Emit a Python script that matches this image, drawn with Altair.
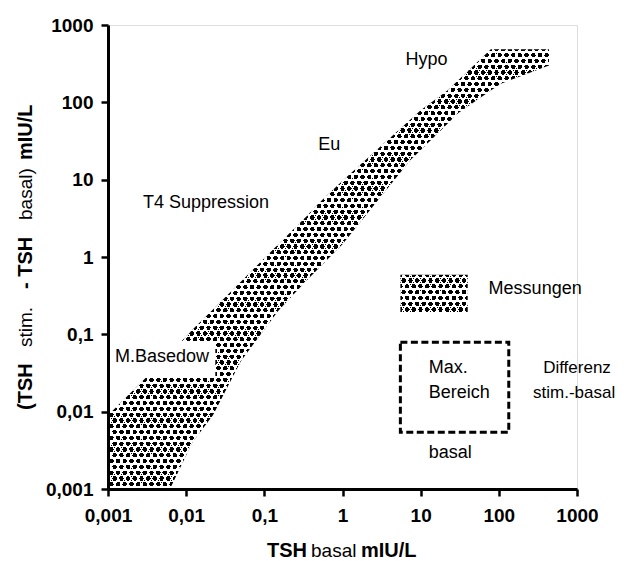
import math

import altair as alt
import numpy as np
import pandas as pd

FONT = "Liberation Sans"

# ---------------- data ----------------
# band of measurements: TSH basal (x) vs. lower / upper limit of TSH stim. - TSH basal
band_x     = [0.001, 0.0062, 0.012, 0.022, 0.05, 0.15, 0.35, 0.5, 1, 2.1, 7.4, 10, 22, 30, 79, 106, 438]
band_upper = [0.009, 0.056, 0.115, 0.21, 0.48, 1.45, 3.4, 5.0, 9.7, 19, 60, 79, 142, 191, 485, 485, 485]
band_lower = [0.001, 0.001, 0.004, 0.009, 0.045, 0.2, 0.5, 0.72, 1.46, 3.7, 18, 24, 53, 72, 142, 174, 300]

# axis ticks
tick_values = [0.001, 0.01, 0.1, 1, 10, 100, 1000]
tick_labels = ["0,001", "0,01", "0,1", "1", "10", "100", "1000"]

# annotation texts (left aligned)
ann_text = ["T4 Suppression", "Eu", "Hypo", "M.Basedow", "Messungen", "Max.", "Bereich", "basal"]
ann_x    = [0.0028, 0.49, 6.4, 0.00123, 74, 12.7, 12.7, 12.7]
ann_y    = [5.0, 28, 350, 0.051, 0.386, 0.037, 0.0176, 0.00296]

# centred annotation texts
ann2_text = ["Differenz", "stim.-basal"]
ann2_x    = [1000, 920]
ann2_y    = [0.037, 0.0176]

# white label box behind "M.Basedow"
box_x  = [0.001]
box_x2 = [0.0236]
box_y  = [0.0275]
box_y2 = [0.08]

# legend swatch "Messungen"
sw_x, sw_x2, sw_y, sw_y2 = [5.5], [40], [0.19], [0.59]
# dashed legend box
db_x, db_x2, db_y, db_y2 = [5.5], [134], [0.0054], [0.079]

# ---------------- layout ----------------
W, H = 469, 464
PAD = {"left": 100, "top": 17, "right": 39, "bottom": 71}


def px_x(v):
    return (np.log10(v) + 3) * W / 6


def px_y(v):
    return (3 - np.log10(v)) * H / 6


def stripes(bw, bh, d, pitch, duty, on, off):
    """Hard-stop linear gradient: stripes parallel to pixel direction d, centred on
    lines through the box corner lattice, inside a bw x bh bounding box."""
    dx, dy = d
    g = np.array([dy / bh, -dx / bw])
    g = g / np.linalg.norm(g)
    corners = np.array([[0, 0], [1, 0], [0, 1], [1, 1]], dtype=float)
    t = corners @ g
    t0, t1 = t.min(), t.max()
    p0, p1 = g * t0, g * t1
    n = np.array([dy, -dx], dtype=float)
    n = n / np.linalg.norm(n)
    P0 = np.array([bw * p0[0], bh * p0[1]])
    P1 = np.array([bw * p1[0], bh * p1[1]])
    s0, s1 = float(n @ P0), float(n @ P1)
    span = s1 - s0
    hw = duty * pitch / 2
    kmin = math.floor(min(s0, s1) / pitch) - 1
    kmax = math.ceil(max(s0, s1) / pitch) + 1
    iv = []
    for k in range(kmin, kmax + 1):
        a = (k * pitch - hw - s0) / span
        b = (k * pitch + hw - s0) / span
        lo, hi = min(a, b), max(a, b)
        lo, hi = max(lo, 0.0), min(hi, 1.0)
        if hi > lo:
            iv.append((lo, hi))
    iv.sort()
    stops = []
    prev = 0.0
    for lo, hi in iv:
        if lo > prev:
            stops += [(prev, off), (lo, off)]
        stops += [(lo, on), (hi, on)]
        prev = hi
    if prev < 1:
        stops += [(prev, off), (1.0, off)]
    return alt.Gradient(
        gradient="linear",
        x1=float(round(p0[0], 6)), y1=float(round(p0[1], 6)),
        x2=float(round(p1[0], 6)), y2=float(round(p1[1], 6)),
        stops=[alt.GradientStop(offset=float(round(o, 6)), color=c) for o, c in stops],
    )


# triangular dot lattice (rows every 5.8 px, dots 6.7 px apart, staggered)
DIRS = [(1.0, 0.0), (3.35, 5.8), (-3.35, 5.8)]
PITCH = 5.8
DUTY = 0.74
CLEAR = "rgba(255,255,255,0)"


def pattern(bw, bh):
    return [stripes(bw, bh, DIRS[0], PITCH, DUTY, "black", "white"),
            stripes(bw, bh, DIRS[1], PITCH, DUTY, CLEAR, "white"),
            stripes(bw, bh, DIRS[2], PITCH, DUTY, CLEAR, "white")]


band_w = px_x(max(band_x)) - px_x(min(band_x))
band_h = px_y(min(band_lower)) - px_y(max(band_upper))
sw_w = px_x(sw_x2[0]) - px_x(sw_x[0])
sw_h = px_y(sw_y[0]) - px_y(sw_y2[0])

# ---------------- scales / axes ----------------
xscale = alt.Scale(type="log", domain=[0.001, 1000], nice=False)
yscale = alt.Scale(type="log", domain=[0.001, 1000], nice=False)

label_expr = ("[" + ",".join("'%s'" % s for s in tick_labels) + "][indexof(["
              + ",".join(repr(v) for v in tick_values) + "], datum.value)]")

axis_style = dict(values=tick_values, labelExpr=label_expr, domainColor="black",
                  domainWidth=3, tickColor="black", tickWidth=2.5, tickSize=7,
                  labelFont=FONT, labelFontSize=19, labelFontWeight="bold",
                  labelColor="black", grid=False, labelFlush=False,
                  labelOverlap=False, zindex=1)
xaxis = alt.Axis(labelPadding=10, **axis_style)
yaxis = alt.Axis(labelPadding=8, **axis_style)


def X(f):
    return alt.X(f, type="quantitative", scale=xscale, axis=xaxis, title=None)


def Y(f):
    return alt.Y(f, type="quantitative", scale=yscale, axis=yaxis, title=None)


band_df = pd.DataFrame({"x": band_x, "upper": band_upper, "lower": band_lower})
band_layers = [
    alt.Chart(band_df).mark_area(color=gr, opacity=1, interpolate="linear").encode(
        x=X("x"), y=Y("upper"), y2="lower")
    for gr in pattern(band_w, band_h)
]

box_df = pd.DataFrame({"x": box_x, "x2": box_x2, "y": box_y, "y2": box_y2})
box = alt.Chart(box_df).mark_rect(color="white", opacity=1).encode(
    x=X("x"), x2="x2", y=Y("y"), y2="y2")

sw_df = pd.DataFrame({"x": sw_x, "x2": sw_x2, "y": sw_y, "y2": sw_y2})
sw_layers = [
    alt.Chart(sw_df).mark_rect(color=gr, opacity=1).encode(x=X("x"), x2="x2", y=Y("y"), y2="y2")
    for gr in pattern(sw_w, sw_h)
]

db_df = pd.DataFrame({"x": db_x, "x2": db_x2, "y": db_y, "y2": db_y2})
dashed = alt.Chart(db_df).mark_rect(fill="white", fillOpacity=0, stroke="black",
                                    strokeWidth=3, strokeDash=[7, 3.5]).encode(
    x=X("x"), x2="x2", y=Y("y"), y2="y2")

ann_df = pd.DataFrame({"t": ann_text, "x": ann_x, "y": ann_y})
ann = alt.Chart(ann_df).mark_text(align="left", baseline="middle", font=FONT,
                                  fontSize=18, color="black").encode(
    x=X("x"), y=Y("y"), text="t:N")

ann2_df = pd.DataFrame({"t": ann2_text, "x": ann2_x, "y": ann2_y})
ann2 = alt.Chart(ann2_df).mark_text(align="center", baseline="middle", font=FONT,
                                    fontSize=17, color="black").encode(
    x=X("x"), y=Y("y"), text="t:N")


def seg(text, px, py, bold, angle=0):
    return alt.Chart(pd.DataFrame({"t": [text]})).mark_text(
        align="left", baseline="alphabetic", font=FONT,
        fontSize=20 if bold else 19,
        fontWeight="bold" if bold else "normal", color="black", angle=angle
    ).encode(text="t:N", x=alt.value(px), y=alt.value(py))


# axis titles with mixed weights (page coords minus plot origin 108, 25)
x_title = [seg("TSH", 159, 532, True), seg("basal", 203, 532, False), seg("mIU/L", 253, 532, True)]
y_title = [seg("(TSH", -76.5, 385, True, 270), seg("stim.", -76.5, 322, False, 270),
           seg("- TSH", -76.5, 264, True, 270), seg("basal)", -76.5, 195, False, 270),
           seg("mIU/L", -76.5, 135, True, 270)]

chart = alt.layer(*band_layers, box, *sw_layers, dashed, ann, ann2, *x_title, *y_title).properties(
    width=W, height=H, autosize="none", padding=PAD
).configure_view(strokeWidth=0).configure(background="white")

chart.save("out.html", embed_options={"renderer": "svg", "actions": False})
